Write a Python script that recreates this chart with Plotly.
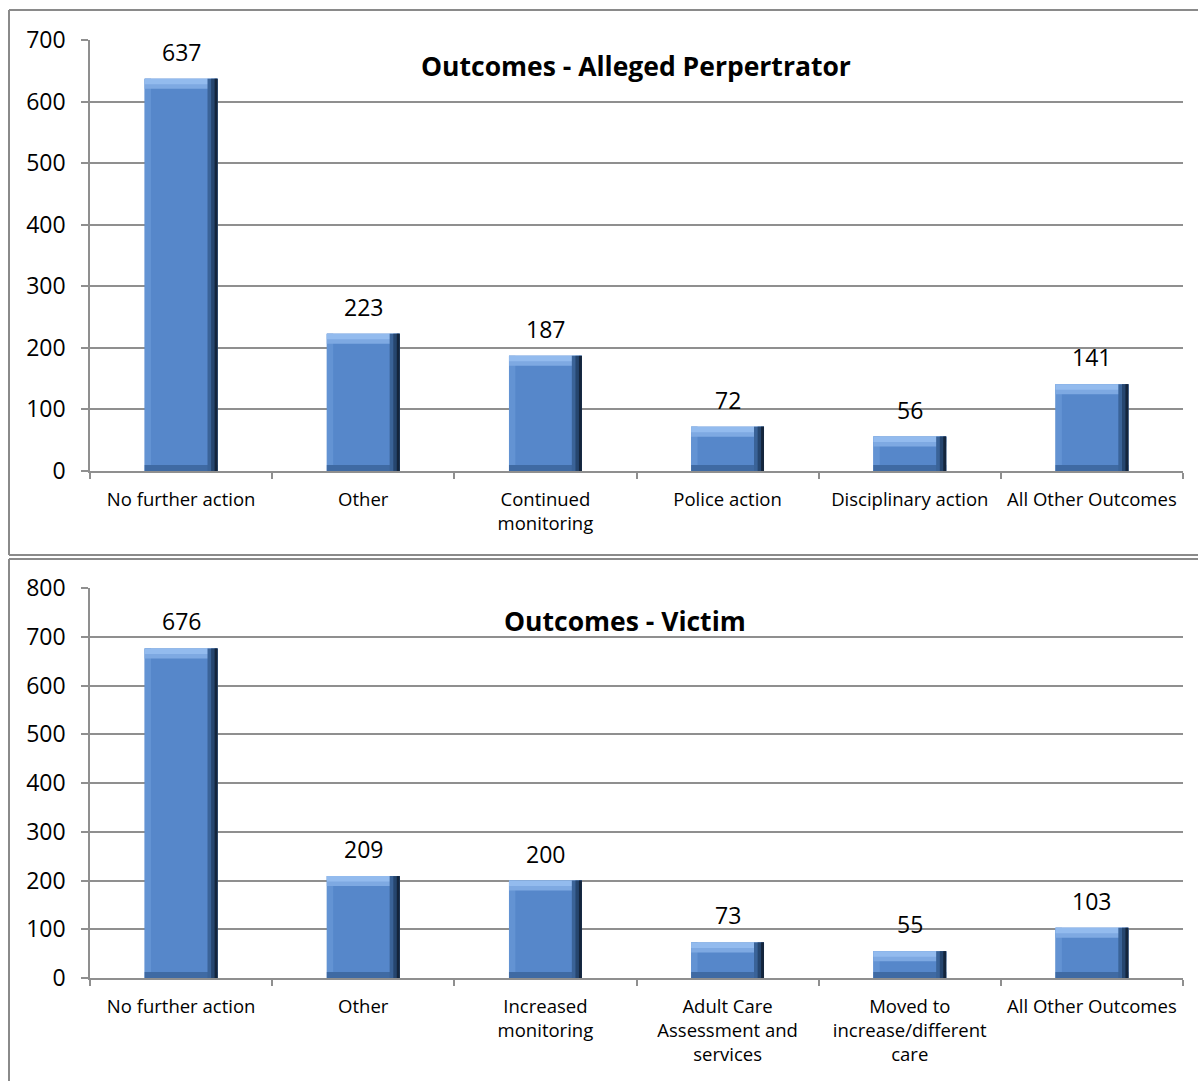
import plotly.graph_objects as go

# ---- data ----
perp_categories = ["No further action", "Other", "Continued<br>monitoring",
                   "Police action", "Disciplinary action", "All Other Outcomes"]
perp_values = [637, 223, 187, 72, 56, 141]

victim_categories = ["No further action", "Other", "Increased<br>monitoring",
                     "Adult Care<br>Assessment and<br>services",
                     "Moved to<br>increase/different<br>care", "All Other Outcomes"]
victim_values = [676, 209, 200, 73, 55, 103]

perp_title = "Outcomes - Alleged Perpertrator"
victim_title = "Outcomes - Victim"

W, H = 1198, 1081
FONT = "Open Sans"
GRID = "#8f8f8f"

fig = go.Figure()


def px_y(py):
    """convert a pixel row (from top) into paper coordinates"""
    return 1 - py / H


def px_x(px):
    return px / W


def add_beveled_bars(xa, ya, cats, vals, ymax, plot_h):
    units_per_px = ymax / plot_h
    bw = 0.4
    off = -bw / 2
    top_t = 10 * units_per_px
    bot_t = 6 * units_per_px
    common = dict(xaxis=xa, yaxis=ya, x=cats, showlegend=False,
                  hoverinfo="skip", marker_line_width=0)
    # body
    fig.add_trace(go.Bar(y=vals, width=bw, offset=off,
                         marker_color="#5687ca", hoverinfo="x+y",
                         **{k: v for k, v in common.items() if k != "hoverinfo"}))
    # left bevel
    fig.add_trace(go.Bar(y=vals, width=0.035, offset=off,
                         marker_color="#6393d3", **common))
    # bottom bevel
    fig.add_trace(go.Bar(y=[min(bot_t, v) for v in vals], width=bw, offset=off,
                         marker_color="#3f6aa3", **common))
    # top bevel (highlight)
    fig.add_trace(go.Bar(y=[top_t] * len(vals), base=[v - top_t for v in vals],
                         width=bw, offset=off, marker_color="#7ea9e2", **common))
    fig.add_trace(go.Bar(y=[top_t * 0.55] * len(vals), base=[v - top_t * 0.55 for v in vals],
                         width=bw, offset=off, marker_color="#93bbee", **common))
    # right shading
    fig.add_trace(go.Bar(y=vals, width=0.055, offset=bw / 2 - 0.055,
                         marker_color="#3a6398", **common))
    fig.add_trace(go.Bar(y=vals, width=0.035, offset=bw / 2 - 0.035,
                         marker_color="#26466f", **common))
    fig.add_trace(go.Bar(y=vals, width=0.016, offset=bw / 2 - 0.016,
                         marker_color="#14253c", **common))


# plot area geometry (pixels)
X0, X1 = 90, 1183
TOP_Y0, TOP_Y1 = 40, 471
BOT_Y0, BOT_Y1 = 588, 978

add_beveled_bars("x", "y", perp_categories, perp_values, 700, TOP_Y1 - TOP_Y0)
add_beveled_bars("x2", "y2", victim_categories, victim_values, 800, BOT_Y1 - BOT_Y0)

xaxis_common = dict(
    type="category", showgrid=False, showline=True, linecolor=GRID, linewidth=1.5,
    ticks="outside", ticklen=6, tickcolor=GRID, tickwidth=1.5, tickson="boundaries",
    tickfont=dict(family=FONT, size=18.5, color="#000000"), ticklabelstandoff=11,
    domain=[px_x(X0), px_x(X1)], fixedrange=True, automargin=False,
)
yaxis_common = dict(
    showgrid=True, gridcolor=GRID, gridwidth=1.5, showline=True, linecolor=GRID,
    linewidth=1.5, ticks="outside", ticklen=7, tickcolor=GRID, tickwidth=1.5,
    dtick=100, tickfont=dict(family=FONT, size=23, color="#000000"),
    ticklabelstandoff=11, zeroline=False, fixedrange=True, automargin=False,
)

fig.update_layout(
    width=W, height=H, margin=dict(l=0, r=0, t=0, b=0, autoexpand=False),
    paper_bgcolor="white", plot_bgcolor="white",
    barmode="overlay", bargap=0.6,
    xaxis=dict(anchor="y", **xaxis_common),
    xaxis2=dict(anchor="y2", **xaxis_common),
    yaxis=dict(anchor="x", range=[0, 700], domain=[px_y(TOP_Y1), px_y(TOP_Y0)], **yaxis_common),
    yaxis2=dict(anchor="x2", range=[0, 800], domain=[px_y(BOT_Y1), px_y(BOT_Y0)], **yaxis_common),
)

# value labels above each bar
annotations = []
for xa, ya, cats, vals in (("x", "y", perp_categories, perp_values),
                           ("x2", "y2", victim_categories, victim_values)):
    for c, v in zip(cats, vals):
        annotations.append(dict(x=c, y=v, xref=xa, yref=ya, text=str(v),
                                showarrow=False, yanchor="middle", yshift=27,
                                font=dict(family=FONT, size=23, color="#000000")))

# chart titles
annotations.append(dict(x=px_x(636), y=px_y(66), xref="paper", yref="paper",
                        text=f"<b>{perp_title}</b>", showarrow=False,
                        xanchor="center", yanchor="middle",
                        font=dict(family=FONT, size=26.5, color="#000000")))
annotations.append(dict(x=px_x(625), y=px_y(621), xref="paper", yref="paper",
                        text=f"<b>{victim_title}</b>", showarrow=False,
                        xanchor="center", yanchor="middle",
                        font=dict(family=FONT, size=26.5, color="#000000")))
fig.update_layout(annotations=annotations)

# chart frames
frame = dict(type="line", xref="paper", yref="paper",
             line=dict(color="#8a8a8a", width=2))
fig.update_layout(shapes=[
    dict(x0=px_x(9), x1=1.01, y0=px_y(10), y1=px_y(10), **frame),
    dict(x0=px_x(9), x1=px_x(9), y0=px_y(10), y1=px_y(555), **frame),
    dict(x0=px_x(9), x1=1.01, y0=px_y(555), y1=px_y(555), **frame),
    dict(x0=px_x(9), x1=1.01, y0=px_y(559), y1=px_y(559), **frame),
    dict(x0=px_x(9), x1=px_x(9), y0=px_y(559), y1=-0.01, **frame),
])

fig.write_html("out.html")
